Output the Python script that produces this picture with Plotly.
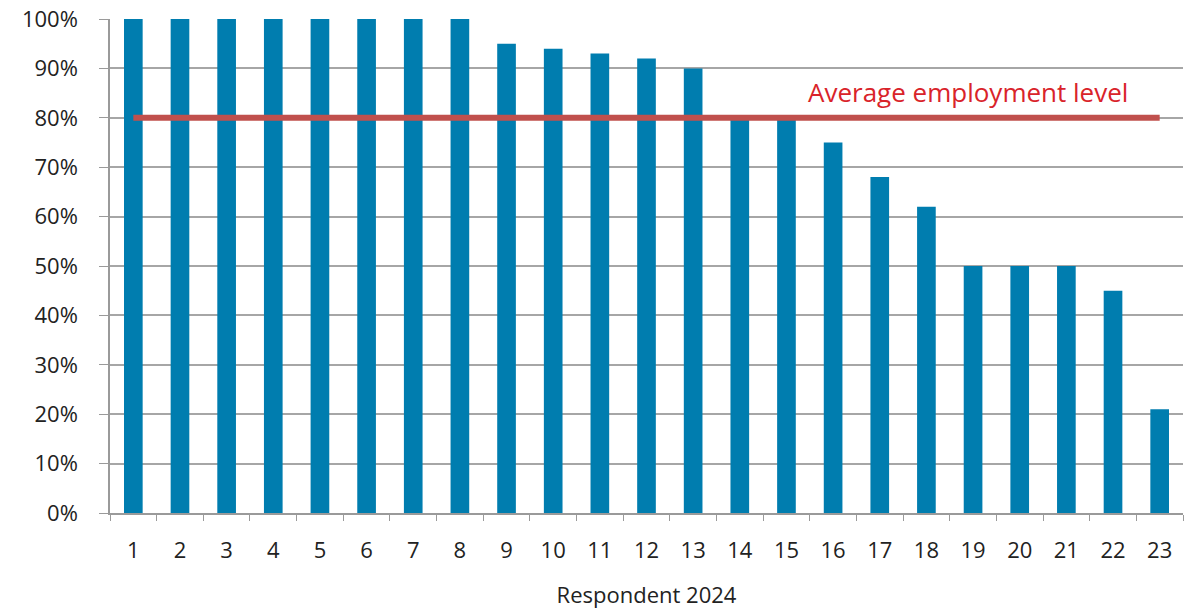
import plotly.graph_objects as go

respondents = [str(i) for i in range(1, 24)]
employment = [100, 100, 100, 100, 100, 100, 100, 100, 95, 94, 93, 92, 90,
              80, 80, 75, 68, 62, 50, 50, 50, 45, 21]
average_level = 80
average_label = "Average employment level"
y_ticks = list(range(0, 101, 10))
y_tick_labels = [f"{v}%" for v in y_ticks]

fig = go.Figure()
fig.add_trace(go.Bar(
    x=respondents, y=employment,
    marker=dict(color="#007DAF", line=dict(width=0)),
    hoverinfo="x+y",
))
fig.add_trace(go.Scatter(
    x=[respondents[0], respondents[-1]], y=[average_level, average_level],
    mode="lines", line=dict(color="#C0504D", width=6),
    hoverinfo="skip",
))
fig.add_annotation(
    x=17.9, y=average_level, yshift=26, text=average_label,
    showarrow=False, font=dict(color="#D9232A", size=26, family="Open Sans"),
)

fig.update_layout(
    width=1201, height=611,
    margin=dict(l=110, r=18, t=19, b=98),
    paper_bgcolor="white", plot_bgcolor="white",
    showlegend=False, bargap=0.6,
    font=dict(family="Open Sans", size=22, color="#222222"),
)
fig.update_xaxes(
    type="category", automargin=False,
    showline=True, linecolor="#9A9A9A", linewidth=1.5,
    ticks="outside", tickson="boundaries", ticklen=6, tickcolor="#9A9A9A",
    ticklabelstandoff=17,
    title=dict(text="Respondent 2024", standoff=24, font=dict(size=22)),
)
fig.update_yaxes(
    range=[0, 100], tickmode="array", tickvals=y_ticks, ticktext=y_tick_labels,
    automargin=False,
    showgrid=True, gridcolor="#A6A6A6", gridwidth=1.5,
    showline=True, linecolor="#9A9A9A", linewidth=1.5,
    zeroline=False, ticks="outside", ticklen=9, tickcolor="#9A9A9A",
    ticklabelstandoff=17,
)

fig.write_html("out.html")
